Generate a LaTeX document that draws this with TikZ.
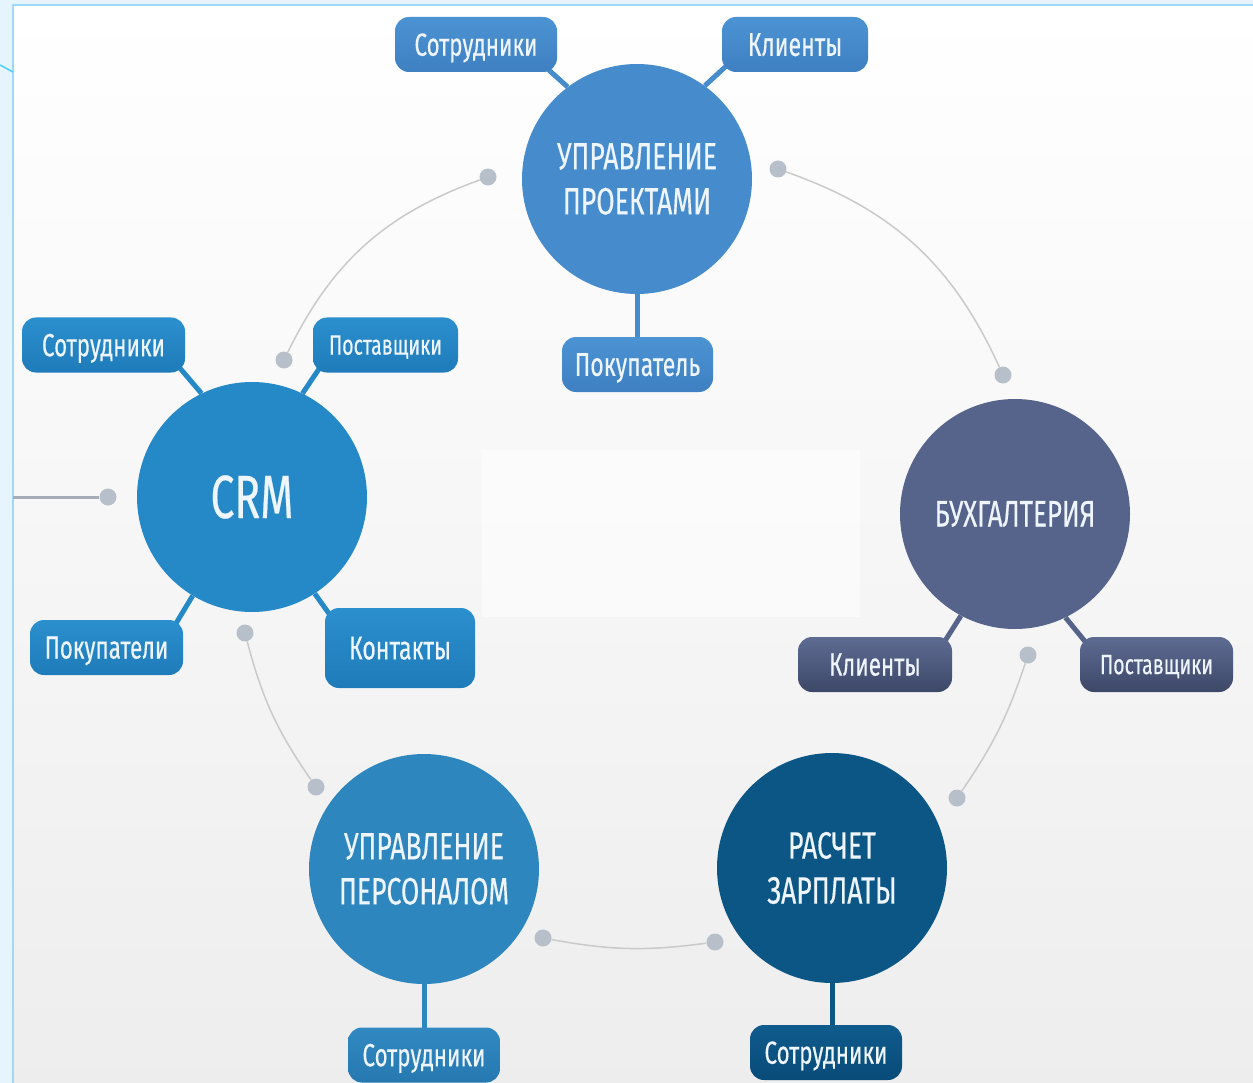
\documentclass[tikz,border=0pt]{standalone}
\usepackage{fontspec}
\setmainfont{Fira Sans}[FakeStretch=0.70,FakeBold=0.35]
\definecolor{outerbg}{HTML}{E6F5FD}
\definecolor{framec}{HTML}{9FD9F7}
\definecolor{pmc}{HTML}{468BCB}
\definecolor{crmc}{HTML}{2689C7}
\definecolor{buhc}{HTML}{56638A}
\definecolor{hrc}{HTML}{2E86BE}
\definecolor{payc}{HTML}{0C5686}
\definecolor{pmT}{HTML}{4C93D3}\definecolor{pmB}{HTML}{3E80C2}
\definecolor{crmT}{HTML}{2B8FCE}\definecolor{crmB}{HTML}{1F7BB9}
\definecolor{buhT}{HTML}{5E6B92}\definecolor{buhB}{HTML}{3D4868}
\definecolor{hrT}{HTML}{3189C2}\definecolor{hrB}{HTML}{2678B0}
\definecolor{payT}{HTML}{0F5B8D}\definecolor{payB}{HTML}{084B78}
\definecolor{dotc}{HTML}{B7C0CA}
\definecolor{arcc}{HTML}{CACACA}
\definecolor{txt}{HTML}{EEF5FC}
\pgfdeclarelayer{back}
\pgfdeclarelayer{links}
\pgfsetlayers{back,links,main}
\tikzset{
  hub/.style n args={2}{circle, minimum size=230pt, inner sep=0pt, text=txt, align=center, font=\fontsize{#1}{#2}\selectfont},
  pill/.style={rounded corners=14pt, minimum height=55pt, inner sep=0pt, text=txt, text depth=0pt, font=\fontsize{#1}{#1}\selectfont},
  conn/.style={line width=5pt},
  gdot/.style={circle, fill=dotc, minimum size=17pt, inner sep=0pt},
  garc/.style={draw=arcc, line width=1.5pt},
}
\begin{document}
\begin{tikzpicture}[x=1pt,y=1pt]
\useasboundingbox (0,0) rectangle (1253,-1083);
\begin{pgfonlayer}{back}
  \fill[outerbg] (0,0) rectangle (1253,-1083);
  \shade[top color=white, bottom color=black!7] (13,-5) rectangle (1262,-1090);
  \draw[framec, line width=2pt] (1262,-5) -- (13,-5) -- (13,-1090);
  \draw[framec!80!blue!60!cyan, line width=1.5pt] (0,-65) -- (13,-72);
  \fill[white, opacity=0.55] (482,-450) rectangle (860,-617);
\end{pgfonlayer}

% hubs
\node[hub={38}{45}, fill=pmc] (pm) at (637,-179) {УПРАВЛЕНИЕ\\ПРОЕКТАМИ};
\node[hub={61}{62}, fill=crmc] (crm) at (252,-497) {CRM};
\node[hub={37}{40}, fill=buhc] (buh) at (1015,-514) {БУХГАЛТЕРИЯ};
\node[hub={38}{45}, fill=hrc] (hr) at (424,-869) {УПРАВЛЕНИЕ\\ПЕРСОНАЛОМ};
\node[hub={38}{45}, fill=payc] (pay) at (832,-868) {РАСЧЕТ\\ЗАРПЛАТЫ};

% pills
\node[pill=32, top color=pmT, bottom color=pmB, minimum width=162pt] (pmS) at (476,-44.5) {Сотрудники};
\node[pill=33, top color=pmT, bottom color=pmB, minimum width=146pt] (pmK) at (795,-44.5) {Клиенты};
\node[pill=33, top color=pmT, bottom color=pmB, minimum width=151pt] (pmP) at (637.5,-364.5) {Покупатель};
\node[pill=32, top color=crmT, bottom color=crmB, minimum width=163pt] (crmS) at (103.5,-345) {Сотрудники};
\node[pill=28, top color=crmT, bottom color=crmB, minimum width=145pt] (crmP) at (385.5,-345) {Поставщики};
\node[pill=32, top color=crmT, bottom color=crmB, minimum width=153pt] (crmB) at (106.5,-647.5) {Покупатели};
\node[pill=33, top color=crmT, bottom color=crmB, minimum width=150pt, minimum height=80pt] (crmK) at (400,-648) {Контакты};
\node[pill=32, top color=buhT, bottom color=buhB, minimum width=154pt] (buhK) at (875,-664.5) {Клиенты};
\node[pill=28, top color=buhT, bottom color=buhB, minimum width=153pt] (buhP) at (1156.5,-664.5) {Поставщики};
\node[pill=32, top color=hrT, bottom color=hrB, minimum width=152pt] (hrS) at (424,-1055) {Сотрудники};
\node[pill=32, top color=payT, bottom color=payB, minimum width=152pt] (payS) at (826,-1052.5) {Сотрудники};

% dots
\node[gdot] (d1) at (488,-177) {};
\node[gdot] (d2) at (778,-169) {};
\node[gdot] (d3) at (284,-360) {};
\node[gdot] (d4) at (1003,-375) {};
\node[gdot] (d5) at (1028,-655) {};
\node[gdot] (d6) at (957,-798) {};
\node[gdot] (d7) at (543,-938) {};
\node[gdot] (d8) at (715,-942) {};
\node[gdot] (d9) at (245,-633) {};
\node[gdot] (d10) at (316,-787) {};
\node[gdot] (d11) at (108,-497) {};

% free ends
\coordinate (e1) at (541,-63);
\coordinate (e2) at (735,-58);
\coordinate (e3) at (637,-350);
\coordinate (e4) at (173,-360);
\coordinate (e5) at (325,-360);
\coordinate (e6) at (172,-630);
\coordinate (e7) at (335,-622);
\coordinate (e8) at (938,-652);
\coordinate (e9) at (1092,-650);
\coordinate (e10) at (424,-1045);
\coordinate (e11) at (832,-1040);
\coordinate (le) at (13,-497);

\begin{pgfonlayer}{links}
  \draw[conn, pmc] (pm.127) -- (e1);
  \draw[conn, pmc] (pm.54) -- (e2);
  \draw[conn, pmc] (pm.270) -- (e3);
  \draw[conn, crmc] (crm.116) -- (e4);
  \draw[conn, crmc] (crm.64) -- (e5);
  \draw[conn, crmc] (crm.239) -- (e6);
  \draw[conn, crmc] (crm.303) -- (e7);
  \draw[conn, buhc] (buh.242) -- (e8);
  \draw[conn, buhc] (buh.296) -- (e9);
  \draw[conn, hrc] (hr.270) -- (e10);
  \draw[conn, payc] (pay.270) -- (e11);
  \draw[garc] (d1) to[bend right=22] (d3);
  \draw[garc] (d2) to[bend left=23] (d4);
  \draw[garc] (d5) to[bend left=8] (d6);
  \draw[garc] (d7) to[bend right=9] (d8);
  \draw[garc] (d9) to[bend right=10] (d10);
  \draw[draw=dotc!90!black, line width=3pt] (d11) -- (le);
\end{pgfonlayer}
\end{tikzpicture}
\end{document}
